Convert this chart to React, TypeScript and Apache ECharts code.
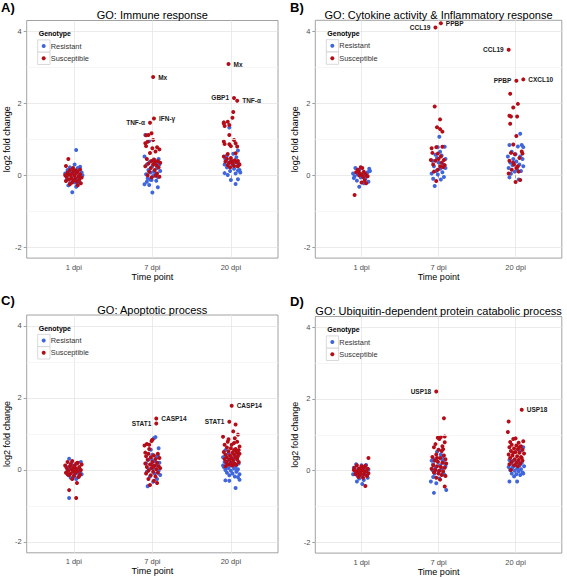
import React, { useEffect, useRef } from "react";
import * as echarts from "echarts";

const timeLabels = ["1 dpi", "7 dpi", "20 dpi"];
const yTicks = [-2, 0, 2, 4];
const yMinor = [-1, 1, 3];
const panelTitles = [
  "GO: Immune response",
  "GO: Cytokine activity & Inflammatory response",
  "GO: Apoptotic process",
  "GO: Ubiquitin-dependent protein catabolic process",
];
const panelTags = ["A)", "B)", "C)", "D)"];
const genotypes = ["Resistant", "Susceptible"];

// [jittered time position, log2 fold change]
const aResistant = [
  [1.03,0.70],[0.95,0.22],[1.05,0.20],[1.08,0.24],[0.92,0.15],[0.98,0.18],[1.02,0.12],[1.10,0.08],[0.89,0.05],[0.94,0.02],[1.00,0.04],[1.06,-0.02],[0.97,-0.06],[1.04,-0.10],[0.91,-0.12],[1.09,-0.05],[0.99,-0.15],[1.02,-0.20],[0.95,-0.22],[1.07,-0.18],[0.93,-0.28],[1.03,-0.32],[0.98,-0.47],[1.01,0.30],[0.96,0.10],[1.05,-0.25],[0.90,-0.02],[1.11,0.00],
  [1.91,1.12],[1.90,0.52],[2.08,0.45],[1.96,0.95],[2.03,0.42],[1.93,0.30],[2.00,0.25],[2.06,0.20],[1.95,0.15],[2.10,0.12],[1.98,0.08],[2.04,0.05],[1.92,0.03],[2.01,-0.02],[2.07,-0.05],[1.94,-0.08],[2.02,0.10],[1.97,-0.12],[2.05,-0.15],[1.93,-0.18],[1.90,-0.25],[1.96,-0.27],[2.00,-0.48],[2.07,-0.33],[1.99,-0.13],[2.09,0.30],[2.05,0.35],[1.97,0.38],
  [2.98,1.33],[3.09,0.69],[3.03,0.60],[2.95,0.55],[3.07,0.50],[2.93,0.45],[3.00,0.42],[3.05,0.38],[2.97,0.35],[3.10,0.32],[2.92,0.30],[3.02,0.28],[3.08,0.25],[2.95,0.22],[3.04,0.18],[3.11,0.15],[2.99,0.12],[3.09,0.13],[2.92,0.06],[2.96,0.01],[3.06,0.05],[3.12,0.08],[3.00,-0.13],[3.06,-0.24],[3.09,-0.11],[2.94,0.48],[3.03,0.30],
];
const aSusceptible = [
  [0.93,0.45],[0.90,0.26],[0.95,0.15],[1.00,0.12],[1.05,0.10],[0.92,0.08],[0.98,0.05],[1.03,0.06],[1.08,0.03],[0.89,0.00],[0.96,0.01],[1.01,-0.01],[1.06,-0.03],[1.10,-0.06],[0.91,-0.05],[0.97,-0.08],[1.02,-0.09],[0.94,-0.12],[1.00,-0.14],[1.07,-0.12],[0.90,-0.16],[0.98,-0.20],[1.04,-0.18],[1.09,-0.22],[0.95,-0.25],[1.02,0.14],[0.99,0.20],[1.05,-0.28],[0.93,0.02],[1.08,0.16],
  [1.92,1.11],[1.95,1.12],[1.99,1.17],[1.91,0.89],[1.94,0.93],[1.92,0.81],[2.01,0.98],[2.00,0.75],[2.06,0.78],[2.09,0.72],[2.04,0.66],[1.97,0.62],[1.93,0.45],[1.99,0.40],[2.03,0.37],[2.07,0.40],[2.10,0.35],[1.95,0.33],[2.01,0.30],[2.05,0.28],[1.91,0.25],[1.98,0.20],[2.08,0.22],[2.03,0.15],[1.96,0.10],[2.06,0.05],[2.09,-0.04],[2.04,-0.01],[1.94,0.00],[1.99,-0.06],[2.02,0.44],
  [3.03,1.76],[3.02,1.60],[2.91,1.44],[2.92,1.37],[2.98,1.40],[2.96,1.49],[2.91,1.47],[2.98,1.12],[3.04,0.98],[3.06,0.89],[2.91,0.94],[2.92,0.87],[2.98,0.86],[3.00,0.81],[3.08,0.80],[2.96,0.59],[3.06,0.61],[2.91,0.52],[2.95,0.45],[3.00,0.48],[3.05,0.42],[3.09,0.40],[2.93,0.38],[2.98,0.35],[3.02,0.33],[3.07,0.36],[3.11,0.30],[2.96,0.28],[3.04,0.26],[2.99,0.22],[3.09,0.25],[3.01,0.40],
];
const aGenes = [
  ["Mx", 2.01, 2.73], ["TNF-α", 1.97, 1.46], ["IFN-γ", 2.02, 1.58],
  ["Mx", 2.97, 3.09], ["GBP1", 3.04, 2.15], ["TNF-α", 3.08, 2.07],
];

const bResistant = [
  [0.92,0.20],[0.97,0.15],[1.10,0.18],[0.89,0.05],[0.95,0.02],[1.02,0.00],[1.08,0.08],[0.91,-0.03],[0.99,-0.06],[1.05,-0.10],[0.94,-0.15],[1.09,-0.18],[0.97,-0.32],[1.03,-0.22],[1.11,0.12],[0.90,-0.08],
  [2.01,1.07],[1.99,0.78],[2.08,0.79],[1.96,0.57],[2.04,0.55],[2.09,0.45],[1.92,0.40],[2.00,0.35],[2.06,0.30],[1.94,0.25],[2.02,0.18],[1.97,0.12],[2.05,0.08],[1.91,0.05],[1.99,0.02],[2.07,-0.05],[1.93,-0.10],[2.03,-0.12],[1.95,-0.30],[2.09,0.20],[1.98,0.48],[2.02,0.65],
  [3.06,1.15],[2.92,0.84],[3.03,0.80],[3.08,0.84],[3.10,0.78],[2.95,0.65],[3.00,0.58],[3.06,0.52],[2.90,0.52],[2.97,0.45],[3.09,0.45],[2.93,0.35],[3.01,0.38],[3.05,0.30],[2.96,0.28],[3.10,0.25],[2.91,0.20],[3.02,0.15],[3.07,0.12],[2.94,0.04],[2.92,-0.06],[3.04,-0.12],[2.99,0.10],
];
const bSusceptible = [
  [0.91,-0.55],[0.99,0.22],[1.01,0.20],[0.96,0.12],[1.03,0.10],[0.98,0.05],[1.00,0.02],[1.05,0.04],[0.93,0.08],[1.07,-0.02],[1.02,-0.05],[0.97,0.00],[1.04,-0.14],[1.00,-0.20],[1.06,-0.22],[0.95,0.15],[1.08,-0.03],
  [1.95,1.91],[2.02,1.55],[1.98,1.33],[2.02,1.28],[2.05,1.21],[1.91,0.75],[1.97,0.78],[2.05,0.79],[1.92,0.62],[1.90,0.42],[1.96,0.40],[2.00,0.45],[2.04,0.35],[2.08,0.28],[1.93,0.30],[2.02,0.25],[2.06,0.22],[1.99,0.15],[2.07,0.42],[1.97,-0.16],[2.03,0.52],[1.94,0.10],[1.99,0.60],
  [2.93,2.26],[3.03,1.98],[2.97,1.88],[2.92,1.65],[2.94,1.63],[3.02,1.63],[2.93,1.43],[3.01,1.09],[2.97,0.85],[2.94,0.62],[2.99,0.58],[3.08,0.66],[3.09,0.60],[2.92,0.40],[2.97,0.35],[3.03,0.25],[3.01,0.20],[2.95,0.15],[3.04,0.10],[3.00,-0.19],[3.06,-0.13],[2.91,0.05],[3.05,0.48],[2.98,0.30],
];
const bGenes = [
  ["CCL19", 1.96, 4.10], ["PPBP", 2.03, 4.22],
  ["CCL19", 2.91, 3.48], ["PPBP", 3.01, 2.62], ["CXCL10", 3.10, 2.66],
];

const cResistant = [
  [0.94,0.31],[0.97,0.20],[1.04,0.18],[1.09,0.22],[0.90,0.10],[0.95,0.05],[1.00,0.08],[1.07,0.02],[0.92,-0.02],[0.99,-0.05],[1.05,-0.08],[1.10,-0.12],[0.93,-0.14],[1.01,-0.18],[0.96,-0.22],[1.03,-0.25],[0.94,-0.78],[1.08,-0.05],[0.98,0.12],[1.02,-0.10],
  [2.04,0.91],[2.02,0.88],[1.98,0.56],[2.08,0.60],[2.00,0.42],[2.06,0.35],[1.95,0.28],[2.03,0.25],[2.09,0.20],[1.92,0.18],[1.99,0.15],[2.05,0.12],[2.01,0.05],[1.96,0.02],[2.08,-0.02],[1.93,-0.05],[2.03,-0.10],[2.10,-0.14],[1.97,-0.18],[2.06,-0.25],[1.94,-0.45],[2.01,-0.33],[1.99,0.30],[2.07,0.40],
  [2.93,0.55],[2.97,0.45],[3.05,0.42],[2.90,0.35],[2.99,0.30],[3.08,0.28],[2.92,0.22],[3.02,0.20],[3.10,0.18],[2.95,0.15],[3.00,0.12],[3.06,0.10],[2.91,0.08],[2.97,0.05],[3.04,0.04],[3.09,0.02],[2.93,0.00],[3.00,-0.02],[3.07,-0.05],[2.95,-0.08],[3.02,-0.10],[3.11,-0.12],[2.98,-0.15],[3.05,-0.18],[2.93,-0.29],[2.98,-0.30],[3.06,-0.50],[3.11,-0.27],[2.96,0.25],[3.03,0.32],[2.90,0.12],[3.08,0.00],[2.94,0.06],[3.01,0.15],[3.09,-0.20],
];
const cSusceptible = [
  [0.94,-0.56],[1.03,-0.78],[1.04,-0.36],[0.92,0.22],[0.98,0.25],[1.05,0.20],[1.10,0.15],[0.89,0.12],[0.95,0.10],[1.01,0.12],[1.07,0.08],[0.91,0.05],[0.97,0.02],[1.03,0.04],[1.09,0.00],[0.93,-0.02],[0.99,-0.04],[1.05,-0.03],[0.90,-0.08],[0.96,-0.10],[1.02,-0.08],[1.08,-0.12],[0.94,-0.15],[1.00,-0.16],[1.06,-0.20],[0.98,-0.25],[1.03,0.18],[0.96,0.16],[1.01,0.00],[1.07,-0.16],[0.92,-0.12],[1.00,0.07],
  [1.90,0.68],[1.96,0.70],[1.99,0.80],[2.00,0.84],[1.93,0.72],[1.91,0.48],[1.95,0.45],[2.02,0.40],[2.07,0.45],[1.92,0.38],[1.98,0.35],[2.04,0.30],[2.09,0.33],[1.94,0.28],[2.00,0.22],[2.06,0.20],[1.91,0.18],[1.97,0.15],[2.03,0.12],[2.08,0.10],[1.93,0.08],[1.99,0.05],[2.05,0.02],[2.10,0.05],[1.95,-0.02],[2.01,-0.05],[2.07,-0.08],[1.92,-0.10],[1.98,-0.15],[2.04,-0.18],[1.95,-0.25],[1.97,-0.42],[2.06,-0.36],[2.02,-0.30],[1.96,0.58],[2.01,0.10],
  [3.06,1.26],[3.03,1.07],[3.09,0.98],[2.96,0.78],[3.04,0.75],[3.08,0.78],[2.92,0.70],[2.95,0.62],[3.00,0.60],[3.06,0.58],[3.10,0.55],[2.91,0.50],[2.97,0.52],[3.02,0.48],[3.07,0.50],[3.11,0.45],[2.93,0.42],[2.99,0.40],[3.04,0.42],[3.09,0.38],[2.95,0.35],[3.01,0.33],[3.06,0.35],[2.92,0.30],[2.98,0.28],[3.03,0.26],[3.08,0.30],[2.94,0.22],[3.00,0.20],[3.05,0.18],[3.10,0.22],[2.96,0.15],[3.02,0.12],[3.07,0.14],[2.93,0.10],[2.90,0.92],[2.97,0.85],[3.11,0.65],[3.05,0.88],[3.01,0.70],[2.99,0.15],[3.04,0.55],[3.09,0.46],
];
const cGenes = [
  ["STAT1", 2.05, 1.29], ["CASP14", 2.05, 1.43],
  ["STAT1", 2.98, 1.34], ["CASP14", 3.01, 1.78],
];

const dResistant = [
  [0.93,0.18],[1.00,0.15],[1.06,0.16],[0.90,0.08],[0.96,0.05],[1.03,0.06],[1.09,0.03],[0.92,-0.02],[0.98,-0.05],[1.04,-0.08],[0.89,-0.10],[0.95,-0.14],[1.01,-0.16],[1.07,-0.12],[0.97,-0.22],[1.03,-0.26],[0.94,-0.30],[1.01,-0.37],[1.08,-0.20],[0.99,0.00],
  [1.98,0.53],[2.03,0.45],[1.94,0.32],[2.05,0.38],[1.91,0.28],[1.99,0.25],[2.07,0.22],[1.93,0.18],[2.02,0.15],[2.09,0.12],[1.96,0.08],[2.04,0.05],[1.92,0.02],[2.00,-0.02],[2.06,-0.05],[1.95,-0.08],[2.08,-0.12],[1.93,-0.18],[2.01,-0.22],[1.90,-0.30],[1.97,-0.35],[1.94,-0.62],[2.10,-0.54],[2.05,0.30],
  [3.10,0.65],[3.06,0.55],[2.92,0.30],[2.97,0.28],[3.03,0.25],[3.08,0.22],[2.94,0.20],[3.00,0.16],[3.05,0.14],[3.11,0.12],[2.91,0.10],[2.96,0.08],[3.02,0.06],[3.07,0.04],[2.93,0.02],[2.99,0.00],[3.04,-0.02],[3.09,-0.05],[2.95,-0.08],[3.01,-0.10],[3.06,-0.12],[2.98,-0.16],[3.10,-0.08],[2.92,-0.30],[3.02,-0.30],[3.06,0.18],[2.97,0.12],
];
const dSusceptible = [
  [1.09,0.35],[0.94,0.15],[1.00,0.12],[1.05,0.14],[0.91,0.08],[0.97,0.06],[1.02,0.08],[1.08,0.05],[0.90,0.02],[0.95,0.00],[1.01,0.02],[1.06,-0.01],[0.93,-0.04],[0.99,-0.06],[1.04,-0.03],[1.09,-0.07],[0.92,-0.10],[0.98,-0.12],[1.03,-0.10],[1.07,-0.15],[0.96,-0.18],[1.02,-0.20],[1.05,-0.43],[0.99,0.04],[1.04,0.10],[0.95,-0.08],
  [2.07,1.46],[2.03,0.94],[2.08,0.95],[1.99,0.92],[1.96,0.74],[2.08,0.79],[2.01,0.88],[2.05,0.68],[1.94,0.65],[2.00,0.58],[2.04,0.55],[1.97,0.45],[2.07,0.42],[1.92,0.38],[2.02,0.35],[2.09,0.32],[1.95,0.28],[1.99,0.25],[2.05,0.22],[2.10,0.20],[1.93,0.15],[1.98,0.12],[2.03,0.10],[2.08,0.08],[1.91,0.05],[1.96,0.02],[2.01,0.00],[2.06,-0.02],[1.94,-0.05],[2.00,-0.08],[2.04,-0.12],[2.09,-0.15],[1.97,-0.20],[2.02,-0.25],[2.08,-0.44],[2.06,0.60],[1.98,0.35],
  [2.91,1.37],[2.90,1.08],[2.97,0.88],[3.00,0.90],[3.10,0.82],[2.93,0.80],[3.04,0.78],[2.95,0.72],[3.01,0.70],[3.07,0.68],[2.92,0.65],[2.98,0.62],[3.03,0.60],[3.09,0.58],[2.94,0.55],[3.00,0.52],[3.05,0.50],[3.11,0.48],[2.91,0.45],[2.96,0.42],[3.02,0.40],[3.07,0.38],[2.93,0.35],[2.99,0.32],[3.04,0.30],[3.09,0.28],[2.95,0.25],[3.01,0.22],[3.06,0.20],[2.92,0.18],[2.98,0.15],[3.03,0.12],[3.08,0.35],[2.97,0.50],[3.05,0.65],[2.94,0.02],
];
const dGenes = [
  ["USP18", 1.97, 2.21], ["USP18", 3.08, 1.70],
];

const resistantSets = [aResistant, bResistant, cResistant, dResistant];
const susceptibleSets = [aSusceptible, bSusceptible, cSusceptible, dSusceptible];
const geneSets = [aGenes, bGenes, cGenes, dGenes];

// label placement (styling) per labelled gene, same order as the gene lists
const geneLabelSides = [
  ["right", "left", "right", "right", "left", "right"],
  ["left", "right", "left", "left", "right"],
  ["left", "right", "left", "right"],
  ["left", "right"],
];

const layouts = [
  { left: 26.7, top: 20.5, width: 251.3, height: 237.6, tagX: 1, tagY: 7, titleY: 15 },
  { left: 315.3, top: 20.3, width: 246.5, height: 237.8, tagX: 290, tagY: 7, titleY: 15 },
  { left: 26.7, top: 315, width: 251.3, height: 237.8, tagX: 1, tagY: 300, titleY: 310 },
  { left: 315.3, top: 316.5, width: 246.5, height: 237.6, tagX: 290, tagY: 301, titleY: 311 },
];

const BLUE = "#3f66dc";
const RED = "#b50d18";
const FONT = "'Liberation Sans', Arial, Helvetica, sans-serif";

function buildOption() {
  const grids: any[] = [];
  const xAxes: any[] = [];
  const yAxes: any[] = [];
  const series: any[] = [];
  const legends: any[] = [];
  const graphics: any[] = [];

  layouts.forEach((g, i) => {
    grids.push({
      left: g.left, top: g.top, width: g.width, height: g.height,
      show: true, borderColor: "#8a8a8a", borderWidth: 0.8, backgroundColor: "#ffffff",
    });
    xAxes.push({
      gridIndex: i, type: "value", min: 0.4, max: 3.6,
      axisLine: { show: false },
      axisTick: { show: true, customValues: [1, 2, 3], length: 3, lineStyle: { color: "#8a8a8a", width: 0.8 } },
      axisLabel: {
        customValues: [1, 2, 3], formatter: (v: number) => timeLabels[Math.round(v) - 1],
        fontSize: 7.5, color: "#4d4d4d", margin: 5, fontFamily: FONT,
      },
      splitLine: { show: true, lineStyle: { color: "#e6e6e6", width: 0.8 } },
      name: "Time point", nameLocation: "middle", nameGap: 12,
      nameTextStyle: { fontSize: 9, color: "#000", fontFamily: FONT },
    });
    yAxes.push({
      gridIndex: i, type: "value", min: -2.3, max: 4.3,
      axisLine: { show: false },
      axisTick: { show: true, customValues: yTicks, length: 3, lineStyle: { color: "#8a8a8a", width: 0.8 } },
      axisLabel: { customValues: yTicks, fontSize: 7.5, color: "#4d4d4d", margin: 5, fontFamily: FONT },
      splitLine: { show: true, lineStyle: { color: "#e6e6e6", width: 0.8 } },
      name: "log2 fold change", nameLocation: "middle", nameGap: 10,
      nameTextStyle: { fontSize: 9, color: "#000", fontFamily: FONT },
    });
    // minor grid lines
    series.push({
      type: "scatter", xAxisIndex: i, yAxisIndex: i, data: [], silent: true, z: 1,
      markLine: {
        silent: true, symbol: ["none", "none"], label: { show: false },
        lineStyle: { color: "#f4f4f4", width: 0.8, type: "solid" },
        data: yMinor.map((v) => ({ yAxis: v })),
      },
    });
    series.push({
      name: genotypes[0], type: "scatter", xAxisIndex: i, yAxisIndex: i,
      symbolSize: 4, itemStyle: { color: BLUE, opacity: 1 }, data: resistantSets[i], z: 2,
    });
    const genes = geneSets[i].map((gRow: any, k: number) => ({
      name: gRow[0], value: [gRow[1], gRow[2]],
      label: {
        show: true, position: geneLabelSides[i][k], distance: 3,
        formatter: "{b}", fontSize: 6.5, fontWeight: "bold", color: "#1a1a1a", fontFamily: FONT,
      },
    }));
    series.push({
      name: genotypes[1], type: "scatter", xAxisIndex: i, yAxisIndex: i,
      symbolSize: 4, itemStyle: { color: RED, opacity: 1 }, data: [...susceptibleSets[i], ...genes], z: 3,
    });

    legends.push({
      data: genotypes, orient: "vertical", left: g.left + 15, top: g.top + 19.4,
      padding: 0, itemGap: 0, itemWidth: 4, itemHeight: 4, icon: "circle",
      textStyle: { fontSize: 7.4, color: "#333", lineHeight: 12.3, fontFamily: FONT },
      z: 6,
    });
    graphics.push(
      { type: "rect", z: 5, shape: { x: g.left + 11, y: g.top + 19.4, width: 12.3, height: 12.3 }, style: { fill: "#fff", stroke: "#cfcfcf", lineWidth: 0.8 } },
      { type: "rect", z: 5, shape: { x: g.left + 11, y: g.top + 31.7, width: 12.3, height: 12.3 }, style: { fill: "#fff", stroke: "#cfcfcf", lineWidth: 0.8 } },
      { type: "text", z: 6, x: g.left + 12, y: g.top + 13, style: { text: "Genotype", fontSize: 7, fontWeight: "bold", fill: "#000", font: `bold 7px ${FONT}`, verticalAlign: "middle" } },
      { type: "text", z: 6, x: g.left + g.width / 2, y: g.titleY, style: { text: panelTitles[i], font: `11px ${FONT}`, fill: "#000", align: "center", verticalAlign: "middle" } },
      { type: "text", z: 6, x: g.tagX, y: g.tagY, style: { text: panelTags[i], font: `bold 13px ${FONT}`, fill: "#000", verticalAlign: "middle" } },
    );
  });

  return {
    animation: false,
    backgroundColor: "#ffffff",
    textStyle: { fontFamily: FONT },
    grid: grids, xAxis: xAxes, yAxis: yAxes, series, legend: legends, graphic: graphics,
  };
}

export default function App() {
  const ref = useRef<HTMLDivElement>(null);
  useEffect(() => {
    if (!ref.current) return;
    const chart = echarts.init(ref.current, null, { renderer: "svg" });
    chart.setOption(buildOption());
    return () => chart.dispose();
  }, []);
  return <div ref={ref} style={{ position: "fixed", left: 0, top: 0, width: 567, height: 577 }} />;
}
